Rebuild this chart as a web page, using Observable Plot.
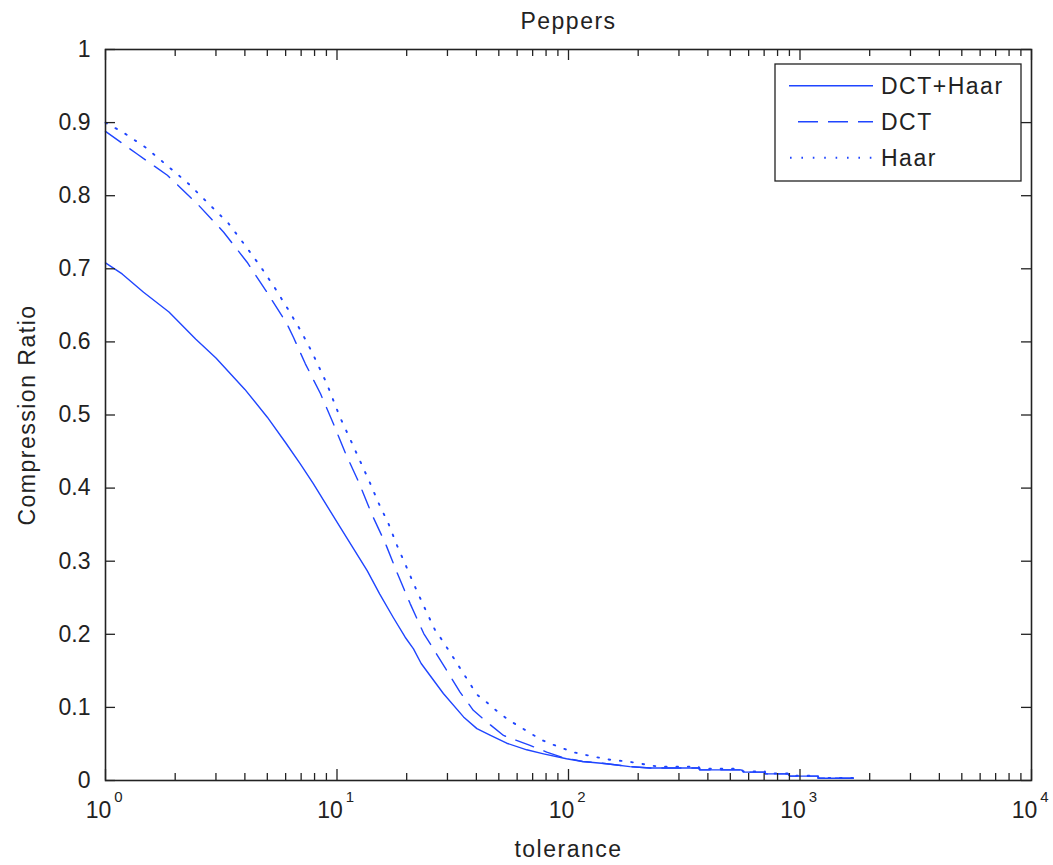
<!DOCTYPE html>
<html><head><meta charset="utf-8">
<script src="https://cdn.jsdelivr.net/npm/d3@7"></script>
<script src="https://cdn.jsdelivr.net/npm/@observablehq/plot@0.6"></script>
<style>
html,body{margin:0;padding:0;background:#fff;}
#chart svg{display:block;}
</style></head><body><div id="chart"></div>
<script>
// ---- data ----
const chartTitle = "Peppers";
const xLabel = "tolerance";
const yLabel = "Compression Ratio";
const seriesNames = ["DCT+Haar", "DCT", "Haar"];

const tolDctHaar = [1, 1.18, 1.46, 1.88, 2.45, 3.0, 4.0, 5.0, 6.0, 6.94, 7.9, 9.04, 10.3, 11.8, 13.5, 15.3, 17.5, 19.7, 21.4, 23.1, 28.8, 35.2, 40.2, 45.8, 54.1, 66, 78, 98, 115, 146, 184, 225, 365, 369, 558, 569, 705, 708, 888, 903, 1197, 1200, 1695];
const crDctHaar  = [0.708, 0.693, 0.668, 0.641, 0.604, 0.578, 0.535, 0.497, 0.462, 0.433, 0.406, 0.376, 0.347, 0.317, 0.287, 0.255, 0.223, 0.196, 0.180, 0.160, 0.119, 0.087, 0.071, 0.062, 0.051, 0.042, 0.0365, 0.0297, 0.026, 0.023, 0.019, 0.017, 0.017, 0.0145, 0.0145, 0.0115, 0.0115, 0.009, 0.009, 0.006, 0.006, 0.003, 0.003];

const tolDct = [1, 1.37, 1.85, 2.49, 3.24, 4.09, 4.98, 6.07, 6.49, 7.3, 8.49, 9.65, 10.9, 12.5, 14.1, 16.2, 18.3, 20.7, 23.7, 26.1, 34, 38.8, 43.6, 52.4, 58.8, 68.2, 80.5, 93.4, 115, 146, 184, 225, 365, 369, 558, 569, 705, 708, 888, 903, 1197, 1200, 1695];
const crDct  = [0.888, 0.857, 0.828, 0.789, 0.750, 0.709, 0.668, 0.625, 0.606, 0.570, 0.529, 0.488, 0.447, 0.406, 0.365, 0.324, 0.282, 0.242, 0.201, 0.180, 0.121, 0.096, 0.082, 0.0616, 0.0556, 0.048, 0.0388, 0.032, 0.026, 0.023, 0.019, 0.017, 0.017, 0.0145, 0.0145, 0.0115, 0.0115, 0.009, 0.009, 0.006, 0.006, 0.003, 0.003];

const tolHaar = [1, 1.2, 1.49, 1.85, 2.29, 2.79, 3.40, 4.01, 4.7, 5.41, 6.19, 6.98, 7.8, 9.03, 10.3, 11.4, 12.5, 13.8, 15.1, 16.7, 18.2, 19.9, 21.8, 24.0, 26.5, 28.6, 40.2, 44.7, 49.5, 55, 61.3, 68.2, 75.9, 84, 93.4, 104, 116, 128, 143, 159, 177, 197, 219, 244, 365, 369, 558, 569, 705, 708, 888, 903, 1197, 1200, 1695];
const crHaar  = [0.900, 0.886, 0.866, 0.841, 0.816, 0.789, 0.762, 0.732, 0.702, 0.673, 0.643, 0.615, 0.586, 0.543, 0.497, 0.467, 0.439, 0.409, 0.380, 0.351, 0.321, 0.293, 0.264, 0.235, 0.206, 0.191, 0.1176, 0.106, 0.094, 0.083, 0.074, 0.065, 0.056, 0.050, 0.0447, 0.039, 0.0356, 0.0328, 0.0297, 0.0274, 0.0264, 0.024, 0.0215, 0.019, 0.019, 0.016, 0.016, 0.0125, 0.0125, 0.0095, 0.0095, 0.0065, 0.0065, 0.0035, 0.0035];

const yTicks = [0, 0.1, 0.2, 0.3, 0.4, 0.5, 0.6, 0.7, 0.8, 0.9, 1];
const yTickLabels = ["0", "0.1", "0.2", "0.3", "0.4", "0.5", "0.6", "0.7", "0.8", "0.9", "1"];
const xMajor = [1, 10, 100, 1000, 10000];
const xExponents = ["0", "1", "2", "3", "4"];
const minorMultipliers = [2, 3, 4, 5, 6, 7, 8, 9];
const xMinor = xMajor.slice(0, -1).flatMap(d => minorMultipliers.map(m => d * m));

// ---- layout ----
const W = 1053, H = 865, mL = 105, mR = 22, mT = 49, mB = 85;
const plotW = W - mL - mR, plotH = H - mT - mB;
const BLUE = "#1f45ff";
const INK = "#222";
const FONT = "'Liberation Sans', Arial, Helvetica, sans-serif";

const toRows = (tol, cr) => tol.map((t, i) => ({tol: t, cr: cr[i]}));
const rowsDctHaar = toRows(tolDctHaar, crDctHaar);
const rowsDct = toRows(tolDct, crDct);
const rowsHaar = toRows(tolHaar, crHaar);

const MAJ = 11, MIN = 7;
const txt = {lineAnchor: "middle", fontSize: 23};

const svg = Plot.plot({
  width: W, height: H,
  marginLeft: mL, marginRight: mR, marginTop: mT, marginBottom: mB,
  style: {fontFamily: FONT, fontSize: "23px", color: INK, background: "white"},
  x: {type: "log", domain: [1, 10000], axis: null},
  y: {domain: [0, 1], axis: null},
  marks: [
    // data lines
    Plot.line(rowsDctHaar, {x: "tol", y: "cr", stroke: BLUE, strokeWidth: 1.4}),
    Plot.line(rowsDct, {x: "tol", y: "cr", stroke: BLUE, strokeWidth: 1.4, strokeDasharray: "19,11"}),
    Plot.line(rowsHaar, {x: "tol", y: "cr", stroke: BLUE, strokeWidth: 1.9, strokeDasharray: "1.6,9.8"}),
    // ticks (inward, all four sides)
    Plot.ruleX(xMajor, {stroke: INK, strokeWidth: 1.3, insetTop: plotH - MAJ}),
    Plot.ruleX(xMajor, {stroke: INK, strokeWidth: 1.3, insetBottom: plotH - MAJ}),
    Plot.ruleX(xMinor, {stroke: INK, strokeWidth: 1.3, insetTop: plotH - MIN}),
    Plot.ruleX(xMinor, {stroke: INK, strokeWidth: 1.3, insetBottom: plotH - MIN}),
    Plot.ruleY(yTicks, {stroke: INK, strokeWidth: 1.3, insetRight: plotW - 10}),
    Plot.ruleY(yTicks, {stroke: INK, strokeWidth: 1.3, insetLeft: plotW - 10}),
    Plot.frame({stroke: INK, strokeWidth: 1.6}),
    // tick labels
    Plot.text(yTicks, {...txt, y: d => d, frameAnchor: "left", text: (d, i) => yTickLabels[i], textAnchor: "end", dx: -15}),
    Plot.text(xMajor, {...txt, x: d => d, frameAnchor: "bottom", text: () => "10", textAnchor: "middle", dx: -7, dy: 30}),
    Plot.text(xMajor, {...txt, x: d => d, frameAnchor: "bottom", text: (d, i) => xExponents[i], textAnchor: "middle", dx: 13, dy: 17, fontSize: 15}),
    // titles
    Plot.text([chartTitle], {...txt, frameAnchor: "top", textAnchor: "middle", text: d => d, dy: -28}),
    Plot.text([xLabel], {...txt, frameAnchor: "bottom", textAnchor: "middle", text: d => d, dy: 69}),
    Plot.text([yLabel], {...txt, frameAnchor: "left", textAnchor: "middle", text: d => d, rotate: -90, dx: -78})
  ]
});

// letter spacing for the label texts (bitmap-font look of the original)
const spaced = new Set([chartTitle, xLabel, yLabel]);
d3.select(svg).selectAll("text").filter(function() { return spaced.has(this.textContent); })
  .attr("letter-spacing", "1.5px");

// ---- legend ----
const lg = d3.select(svg).append("g").attr("font-family", FONT).attr("font-size", 23)
  .attr("fill", INK).attr("text-anchor", "start");
const lx = 775, ly = 64, lw = 246, lh = 117;
lg.append("rect").attr("x", lx).attr("y", ly).attr("width", lw).attr("height", lh)
  .attr("fill", "white").attr("stroke", INK).attr("stroke-width", 1.3);
const legendStyles = [
  {x1: 789, dash: null, sw: 1.4},
  {x1: 798, dash: "20,10", sw: 1.4},
  {x1: 790, dash: "1.6,9.8", sw: 1.9}
];
seriesNames.forEach((name, i) => {
  const cy = 85.7 + i * 36;
  const s = legendStyles[i];
  const ln = lg.append("line").attr("x1", s.x1).attr("x2", 873).attr("y1", cy).attr("y2", cy)
    .attr("stroke", BLUE).attr("stroke-width", s.sw);
  if (s.dash) ln.attr("stroke-dasharray", s.dash);
  lg.append("text").attr("x", 881).attr("y", cy).attr("dy", "0.35em")
    .attr("text-anchor", "start").attr("letter-spacing", "1.5px").text(name);
});

document.getElementById("chart").appendChild(svg);
</script></body></html>
